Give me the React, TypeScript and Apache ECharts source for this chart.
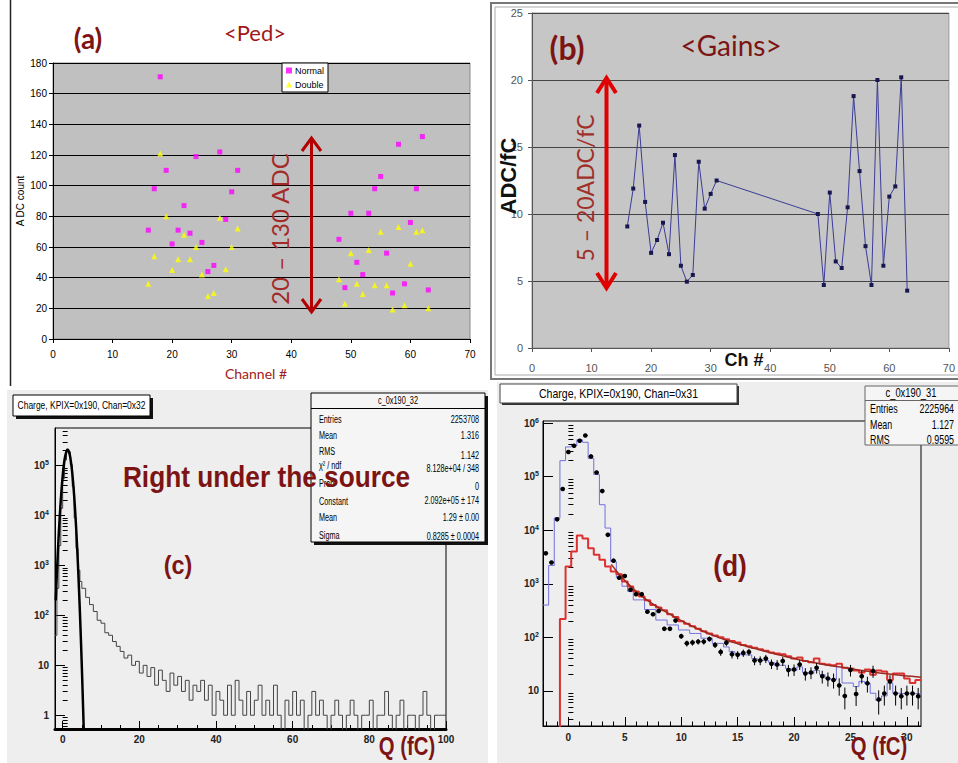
import React, { useEffect, useRef } from "react";
import * as echarts from "echarts";

// ---------- (a) pedestals & (b) gains ----------
const channels = [16, 17, 18, 19, 20, 21, 22, 23, 24, 25, 26, 27, 28, 29, 30, 31, 48, 49, 50, 51, 52, 53, 54, 55, 56, 57, 58, 59, 60, 61, 62, 63];
const pedNormal = [71, 98, 171, 110, 62, 71, 87, 69, 119, 63, 44, 48, 122, 78, 96, 110, 65, 33.5, 82, 50, 42, 82, 98, 106, 56, 30, 127, 36, 76, 98, 132, 32];
const pedDouble = [36, 54, 121, 80, 45, 52, 68, 52, 60, 42, 28, 30, 79, 45.5, 60, 72, 39, 23, 56, 36, 29.4, 58, 35, 70, 35, 19.3, 73, 22, 49, 70, 71, 20];
const gains = [9.07, 11.9, 16.6, 10.9, 7.1, 8.06, 9.35, 7.0, 14.4, 6.14, 4.95, 5.45, 13.9, 10.4, 11.5, 12.5, 10.0, 4.7, 11.6, 6.46, 5.97, 10.5, 18.8, 13.2, 7.6, 4.7, 20.0, 6.14, 11.3, 12.06, 20.2, 4.28];

// ---------- (c) charge, chan 0x32 ----------
const cPeakStart = -2;
const cPeakBin = 0.5;
const cPeakCounts = [40, 350, 2500, 14000, 55000, 130000, 215000, 190000, 105000, 38000, 9000, 2200, 800, 480];
const cTailStart = 5;
const cTailBin = 1;
const cTailCounts = [
  350, 230, 165, 120, 80, 70, 45, 40, 30, 24,
  19, 14, 16, 10, 12, 7, 10, 6, 9, 4,
  8, 5, 3, 7, 4, 6, 3, 5, 2, 4,
  3, 5, 2, 4, 1, 3, 2, 1, 4, 1,
  5, 2, 1, 3, 1, 2, 4, 1, 2, 1,
  4, 1, 0, 2, 1, 3, 1, 2, 0, 1,
  3, 1, 2, 1, 0, 1, 2, 1, 0, 1,
  2, 1, 0, 1, 1, 2, 0, 1, 1, 3,
  1, 0, 1, 2, 0, 1, 1, 0, 1, 3,
  1, 0, 1, 1, 1,
];
const cFitQ = [-1.8, -1.5, -1.0, -0.5, 0, 0.5, 1.0, 1.3, 1.6, 2.0, 2.5, 3.0, 3.5, 4.0, 4.5, 5.0, 5.5, 5.8];
const cFitN = [200, 720, 4600, 20000, 62000, 133000, 197000, 209000, 195000, 145000, 72000, 25000, 6000, 990, 115, 9.4, 0.52, 0.1];

// ---------- (d) charge, chan 0x31 (0.5 fC bins from -2.25) ----------
const dStart = -2.25;
const dBin = 0.5;
const dData = [
  3700, 2500, 16000, 59000, 290000, 380000, 470000, 590000, 240000, 120000,
  54000, 8200, 2700, 1300, 1400, 770, 640, 640, 300, 270,
  310, 144, 144, 205, 105, 77, 80, 83, 83, 93,
  72, 53, 79, 48, 47, 51, 53, 37, 37, 40,
  32, 31, 36, 24.5, 25, 31, 21, 22, 27, 18.7,
  17, 16, 12.6, 8, 24.5, 8.7, 18.7, 13.8, 23.5, 6.9,
  8.9, 15, 8.9, 7.9, 8.9, 8.9, 7.9,
];
const dErr = [
  0, 0, 0, 0, 0, 0, 0, 0, 0, 0,
  0, 0, 0, 40, 40, 30, 28, 28, 18, 18,
  18, 13, 13, 15, 11, 10, 10, 10, 10, 10,
  9, 8, 10, 8, 8, 8, 8, 7, 7, 7,
  6.5, 6.5, 7, 6, 6, 6.5, 5.5, 5.5, 6, 5,
  5, 5, 4.5, 3.5, 6, 3.5, 5, 4.5, 6, 3.3,
  3.6, 4.6, 3.6, 3.4, 3.6, 3.6, 3.4,
];
const dBlue = [
  400, 2200, 17000, 200000, 360000, 380000, 490000, 440000, 220000, 110000,
  30000, 11000, 2600, 1300, 900, 720, 500, 500, 330, 330,
  210, 210, 170, 170, 137, 137, 118, 118, 96, 96,
  77, 77, 66, 54, 50, 47, 47, 40, 37, 37,
  34, 30, 30, 26, 24, 28, 22, 21, 24, 20,
  17, 16, 28, 14, 14, 12, 15, 13.7, 9, 6.6,
  8, 14, 9, 8.9, 9, 8.9, 8.9,
];
const dRed = [
  0, 0, 0, 220, 2100, 4000, 8000, 7000, 4600, 3500,
  2800, 2100, 1700, 1500, 1100, 890, 720, 580, 490, 400,
  360, 320, 270, 240, 200, 180, 160, 145, 130, 118,
  108, 100, 92, 85, 80, 72, 68, 64, 60, 56,
  52, 50, 48, 44, 40, 42, 36, 34, 40, 32,
  31, 30, 32, 27, 26, 24, 22, 25, 20, 24,
  23, 16, 21, 21, 17, 14, 16,
];
const dFitQ = [3.8, 4.5, 5, 6, 7, 8, 9, 10, 11, 12, 13, 14, 15, 16, 17, 18, 19, 20, 21, 22, 23, 24, 25, 26, 27, 28, 29, 30, 31.25];
const dFitN = [2300, 1500, 1150, 720, 490, 360, 270, 205, 160, 128, 105, 88, 76, 66, 58, 51, 45, 40, 36, 33, 30, 28, 26, 24, 22.5, 21, 20, 19, 18];

const cStatLabels = ["Entries", "Mean", "RMS", "\u03c7\u00b2 / ndf", "Prob", "Constant", "Mean", "Sigma"];
const cStatValues = ["2253708", "1.316", "1.142", "8.128e+04 / 348", "0", "2.092e+05 \u00b1 174", "1.29 \u00b1 0.00", "0.8285 \u00b1 0.0004"];
const dStatLabels = ["Entries", "Mean", "RMS"];
const dStatValues = ["2225964", "1.127", "0.9595"];

const FONT = "'Liberation Sans', Arial, sans-serif";
const TFONT = "Lato, 'Open Sans', sans-serif";
const DRED = "#7d1414";

const C_YMIN = 0.53, C_YMAX = 5.7e5;
const D_YMIN = 2.2, D_YMAX = 1.1e6;

function logMajor(min: number, max: number) {
  const out: number[] = [];
  for (let e = -2; e <= 8; e++) { const v = Math.pow(10, e); if (v >= min && v <= max) out.push(v); }
  return out;
}
function logMinor(min: number, max: number) {
  const out: number[] = [];
  for (let e = -2; e <= 8; e++) for (let m = 2; m <= 9; m++) { const v = m * Math.pow(10, e); if (v > min && v < max) out.push(v); }
  return out;
}
const powLabel = (v: number) => {
  if (Math.abs(v - 1) < 1e-9) return "1";
  if (Math.abs(v - 10) < 1e-6) return "10";
  const e = Math.round(Math.log10(v));
  return `{b|10}{s|${e}}`;
};
const powRich = {
  b: { fontSize: 10, fontWeight: "bold", color: "#222", fontFamily: FONT, lineHeight: 13 },
  s: { fontSize: 7, fontWeight: "bold", color: "#222", fontFamily: FONT, lineHeight: 7, verticalAlign: "top" },
};

function T(x: number, y: number, text: string, o: any = {}) {
  return {
    type: "text", x, y, rotation: o.rot || 0, scaleX: o.sx || 1, z: o.z ?? 100,
    style: {
      text, fill: o.color || "#000", fontSize: o.size || 12, fontFamily: o.family || FONT,
      fontWeight: o.weight || "normal", align: o.align || "center", verticalAlign: o.va || "middle",
    },
  };
}

export default function App() {
  const ref = useRef<HTMLDivElement>(null);
  useEffect(() => {
    if (!ref.current) return;
    const chart = echarts.init(ref.current, null, { renderer: "svg" });

    const FLOOR = 1e-3;
    const cHist: number[][] = [];
    cPeakCounts.forEach((v, i) => cHist.push([cPeakStart + i * cPeakBin, v > 0 ? v : FLOOR]));
    cTailCounts.forEach((v, i) => cHist.push([cTailStart + i * cTailBin, v > 0 ? v : FLOOR]));
    cHist.push([cTailStart + cTailCounts.length * cTailBin, cTailCounts[cTailCounts.length - 1] || FLOOR]);

    const stepData = (arr: number[]) => {
      const out = arr.map((v, i) => [dStart + i * dBin, v > 0 ? v : FLOOR]);
      out.push([dStart + arr.length * dBin, arr[arr.length - 1] > 0 ? arr[arr.length - 1] : FLOOR]);
      return out;
    };

    const cMinorX: number[] = [];
    for (let q = 5; q < 100; q += 5) if (q % 20 !== 0) cMinorX.push(q);
    const dMinorX: number[] = [];
    for (let q = -2; q <= 31; q++) if (q % 5 !== 0) dMinorX.push(q);

    const cStats: any[] = [];
    const cLabY = [419, 435, 451, 465, 483, 501, 517, 535];
    const cValY = [419, 435, 455, 468, 486, 500, 517, 536];
    cStatLabels.forEach((l, i) => cStats.push(T(319, cLabY[i], l, { align: "left", size: 11.5, sx: 0.63, z: 60 })));
    cStatValues.forEach((v, i) => cStats.push(T(479, cValY[i], v, { align: "right", size: 11.5, sx: 0.63, z: 60 })));
    const dStats: any[] = [];
    const dRowY = [408, 424, 439];
    dStatLabels.forEach((l, i) => dStats.push(T(870, dRowY[i], l, { align: "left", size: 12, sx: 0.74, z: 60 })));
    dStatValues.forEach((v, i) => dStats.push(T(954, dRowY[i], v, { align: "right", size: 12, sx: 0.74, z: 60 })));

    const arrowA = "#b40000";
    const arrowB = "#e00000";

    const graphic: any[] = [
      // panel backgrounds
      { type: "rect", z: -10, shape: { x: 7, y: 390, width: 481, height: 373 }, style: { fill: "#eeeeee" } },
      { type: "rect", z: -10, shape: { x: 497, y: 382, width: 461, height: 381 }, style: { fill: "#eeeeee" } },
      // frames
      { type: "line", z: 5, shape: { x1: 10.5, y1: 0, x2: 10.5, y2: 386 }, style: { stroke: "#222", lineWidth: 1.5 } },
      { type: "rect", z: 5, shape: { x: 491, y: 3, width: 470, height: 376 }, style: { fill: "none", stroke: "#777", lineWidth: 2 } },
      { type: "rect", z: 5, shape: { x: 495, y: 7, width: 470, height: 368 }, style: { fill: "none", stroke: "#aaa", lineWidth: 1 } },

      // (a) texts
      T(88, 38, "(a)", { size: 28, weight: "bold", family: TFONT, color: DRED }),
      T(255, 32, "<Ped>", { size: 22, family: TFONT, color: "#a01818" }),
      T(256, 373, "Channel #", { size: 14, family: TFONT, color: "#a02020" }),
      T(20, 201, "A DC count", { size: 10, rot: Math.PI / 2 }),
      T(279, 229, "20 \u2013 130 ADC", { size: 24, family: TFONT, color: "#a52a2a", rot: Math.PI / 2 }),
      { type: "line", z: 100, shape: { x1: 311.5, y1: 139, x2: 311.5, y2: 311 }, style: { stroke: arrowA, lineWidth: 3 } },
      { type: "polyline", z: 100, shape: { points: [[302, 151], [311.5, 138], [321, 151]] }, style: { stroke: arrowA, lineWidth: 3, fill: "none" } },
      { type: "polyline", z: 100, shape: { points: [[302, 299], [311.5, 312], [321, 299]] }, style: { stroke: arrowA, lineWidth: 3, fill: "none" } },

      // (b) texts
      T(567, 47, "(b)", { size: 32, weight: "bold", family: TFONT, color: DRED }),
      T(731, 45, "<Gains>", { size: 28, family: TFONT, color: DRED }),
      T(508, 176, "ADC/fC", { size: 22, weight: "bold", rot: Math.PI / 2, color: "#111" }),
      T(744, 360, "Ch #", { size: 18, weight: "bold", color: "#111" }),
      T(585, 188, "5 \u2013 20ADC/fC", { size: 23, family: TFONT, color: "#a0302a", rot: Math.PI / 2 }),
      { type: "line", z: 100, shape: { x1: 606.5, y1: 82, x2: 606.5, y2: 284 }, style: { stroke: arrowB, lineWidth: 4 } },
      { type: "polyline", z: 100, shape: { points: [[597, 93], [606.5, 78], [616, 93]] }, style: { stroke: arrowB, lineWidth: 4, fill: "none" } },
      { type: "polyline", z: 100, shape: { points: [[597, 273], [606.5, 288], [616, 273]] }, style: { stroke: arrowB, lineWidth: 4, fill: "none" } },

      // (c) title box
      { type: "rect", z: 50, shape: { x: 16, y: 398, width: 137, height: 21 }, style: { fill: "#111" } },
      { type: "rect", z: 51, shape: { x: 13, y: 395, width: 137, height: 21 }, style: { fill: "#ffffff", stroke: "#000", lineWidth: 1 } },
      T(81.5, 405.5, "Charge, KPIX=0x190, Chan=0x32", { size: 11, sx: 0.77, z: 52 }),
      // (c) stats box
      { type: "rect", z: 50, shape: { x: 314, y: 396, width: 174, height: 149 }, style: { fill: "#111" } },
      { type: "rect", z: 51, shape: { x: 311, y: 393, width: 174, height: 149 }, style: { fill: "#f5f5f5", stroke: "#000", lineWidth: 1 } },
      { type: "line", z: 52, shape: { x1: 311, y1: 408.5, x2: 485, y2: 408.5 }, style: { stroke: "#000", lineWidth: 1 } },
      T(398, 400.5, "c_0x190_32", { size: 10.5, sx: 0.7, z: 60 }),
      ...cStats,
      T(266.5, 476, "Right under the source", { size: 30, weight: "bold", sx: 0.875, color: DRED, z: 120 }),
      T(178, 565, "(c)", { size: 26, weight: "bold", sx: 0.9, color: DRED }),
      T(407, 746, "Q (fC)", { size: 26, weight: "bold", sx: 0.78, color: DRED }),

      // (d) title box
      { type: "rect", z: 50, shape: { x: 502, y: 386, width: 237, height: 19 }, style: { fill: "#333" } },
      { type: "rect", z: 51, shape: { x: 500, y: 384, width: 237, height: 19 }, style: { fill: "#ffffff", stroke: "#444", lineWidth: 1 } },
      T(618.5, 393.5, "Charge, KPIX=0x190, Chan=0x31", { size: 13, sx: 0.81, z: 52 }),
      // (d) stats box
      { type: "rect", z: 51, shape: { x: 865, y: 386, width: 95, height: 59 }, style: { fill: "#f5f5f5", stroke: "#666", lineWidth: 1 } },
      { type: "line", z: 52, shape: { x1: 865, y1: 400.5, x2: 958, y2: 400.5 }, style: { stroke: "#666", lineWidth: 1 } },
      T(911, 393, "c_0x190_31", { size: 12, sx: 0.78, z: 60 }),
      ...dStats,
      T(730, 565, "(d)", { size: 30, weight: "bold", sx: 0.88, color: DRED }),
      T(879, 746, "Q (fC)", { size: 26, weight: "bold", sx: 0.78, color: DRED }),
    ];

    const hiddenLine = { show: false };
    const option: any = {
      animation: false,
      backgroundColor: "#ffffff",
      textStyle: { fontFamily: FONT },
      legend: {
        data: ["Normal", "Double"], orient: "vertical", left: 282, top: 63, padding: [3, 4, 3, 4],
        itemGap: 5, itemWidth: 6, itemHeight: 6, backgroundColor: "#ffffff", borderColor: "#000", borderWidth: 1,
        borderRadius: 0, selectedMode: false, textStyle: { fontSize: 9, color: "#000", fontFamily: FONT, padding: [0, 0, 0, -2] },
      },
      grid: [
        { left: 53, top: 63, width: 417, height: 276, show: true, backgroundColor: "#c0c0c0", borderColor: "#888", borderWidth: 1 },
        { left: 532, top: 13, width: 424, height: 335, show: true, backgroundColor: "#c6c6c6", borderColor: "#999", borderWidth: 1 },
        { left: 55, top: 428, width: 391, height: 301, show: true, backgroundColor: "#eeeeee", borderColor: "#000", borderWidth: 1 },
        { left: 543, top: 421, width: 378, height: 305, show: true, backgroundColor: "#eeeeee", borderColor: "#000", borderWidth: 1 },
      ],
      xAxis: [
        {
          gridIndex: 0, type: "value", min: 0, max: 70, interval: 10, position: "bottom",
          axisLine: { show: true, onZero: false, lineStyle: { color: "#000", width: 1 } },
          axisTick: { show: true, inside: false, length: 4, lineStyle: { color: "#000" } },
          axisLabel: { color: "#000", fontSize: 10, margin: 10 }, splitLine: { show: false },
        },
        {
          gridIndex: 1, type: "value", min: 0, max: 70, interval: 10, position: "bottom",
          axisLine: { show: true, onZero: false, lineStyle: { color: "#555", width: 1 } },
          axisTick: { show: true, inside: false, length: 4, lineStyle: { color: "#555" } },
          axisLabel: { color: "#555", fontSize: 11, margin: 14 }, splitLine: { show: false },
        },
        {
          gridIndex: 2, type: "value", min: -2, max: 100, position: "bottom",
          axisLine: { show: true, onZero: false, lineStyle: { color: "#000", width: 3 } },
          axisTick: { show: true, inside: true, length: 8, customValues: [0, 20, 40, 60, 80, 100], lineStyle: { color: "#000" } },
          axisLabel: { customValues: [0, 20, 40, 60, 80, 100], color: "#222", fontSize: 10, fontWeight: "bold", margin: 5 },
          splitLine: { show: false },
        },
        {
          gridIndex: 2, type: "value", min: -2, max: 100, position: "bottom",
          axisLine: hiddenLine, axisLabel: { show: false }, splitLine: { show: false },
          axisTick: { show: true, inside: true, length: 4, customValues: cMinorX, lineStyle: { color: "#000" } },
        },
        {
          gridIndex: 3, type: "value", min: dStart, max: 31.25, position: "bottom",
          axisLine: { show: true, onZero: false, lineStyle: { color: "#000", width: 1 } },
          axisTick: { show: true, inside: true, length: 9, customValues: [0, 5, 10, 15, 20, 25, 30], lineStyle: { color: "#000" } },
          axisLabel: { customValues: [0, 5, 10, 15, 20, 25, 30], color: "#222", fontSize: 10, fontWeight: "bold", margin: 6 },
          splitLine: { show: false },
        },
        {
          gridIndex: 3, type: "value", min: dStart, max: 31.25, position: "bottom",
          axisLine: hiddenLine, axisLabel: { show: false }, splitLine: { show: false },
          axisTick: { show: true, inside: true, length: 4.5, customValues: dMinorX, lineStyle: { color: "#000" } },
        },
      ],
      yAxis: [
        {
          gridIndex: 0, type: "value", min: 0, max: 180, interval: 20, position: "left",
          axisLine: { show: true, onZero: false, lineStyle: { color: "#000" } },
          axisTick: { show: true, length: 4, lineStyle: { color: "#000" } },
          axisLabel: { color: "#000", fontSize: 10, margin: 6 },
          splitLine: { show: true, lineStyle: { color: "#000", width: 1 } },
        },
        {
          gridIndex: 1, type: "value", min: 0, max: 25, interval: 5, position: "left",
          axisLine: { show: true, onZero: false, lineStyle: { color: "#555" } },
          axisTick: { show: true, length: 4, lineStyle: { color: "#555" } },
          axisLabel: { color: "#555", fontSize: 11, margin: 9 },
          splitLine: { show: true, lineStyle: { color: "#444", width: 1.2 } },
        },
        {
          gridIndex: 2, type: "log", logBase: 10, min: C_YMIN, max: C_YMAX, position: "left",
          axisLine: { show: true, onZero: false, lineStyle: { color: "#000" } },
          axisTick: { show: true, inside: true, length: 10, customValues: logMajor(C_YMIN, C_YMAX), lineStyle: { color: "#000" } },
          axisLabel: { customValues: logMajor(C_YMIN, C_YMAX), formatter: powLabel, rich: powRich, color: "#222", fontSize: 10, fontWeight: "bold", margin: 6 },
          splitLine: { show: false },
        },
        {
          gridIndex: 2, type: "log", logBase: 10, min: C_YMIN, max: C_YMAX, position: "left",
          axisLine: hiddenLine, axisLabel: { show: false }, splitLine: { show: false },
          axisTick: { show: true, inside: true, length: 5, customValues: logMinor(C_YMIN, C_YMAX), lineStyle: { color: "#000" } },
        },
        {
          gridIndex: 3, type: "log", logBase: 10, min: D_YMIN, max: D_YMAX, position: "left",
          axisLine: { show: true, onZero: false, lineStyle: { color: "#000" } },
          axisTick: { show: true, inside: true, length: 10, customValues: logMajor(D_YMIN, D_YMAX), lineStyle: { color: "#000" } },
          axisLabel: { customValues: logMajor(D_YMIN, D_YMAX), formatter: powLabel, rich: powRich, color: "#222", fontSize: 10, fontWeight: "bold", margin: 4 },
          splitLine: { show: false },
        },
        {
          gridIndex: 3, type: "log", logBase: 10, min: D_YMIN, max: D_YMAX, position: "left",
          axisLine: hiddenLine, axisLabel: { show: false }, splitLine: { show: false },
          axisTick: { show: true, inside: true, length: 5, customValues: logMinor(D_YMIN, D_YMAX), lineStyle: { color: "#000" } },
        },
      ],
      series: [
        {
          name: "Normal", type: "scatter", xAxisIndex: 0, yAxisIndex: 0, symbol: "rect", symbolSize: 5,
          itemStyle: { color: "#ff00ff" }, data: channels.map((c, i) => [c, pedNormal[i]]), z: 3,
        },
        {
          name: "Double", type: "scatter", xAxisIndex: 0, yAxisIndex: 0, symbol: "triangle", symbolSize: 6,
          itemStyle: { color: "#ffff00" }, data: channels.map((c, i) => [c, pedDouble[i]]), z: 3,
        },
        {
          name: "Gain", type: "line", xAxisIndex: 1, yAxisIndex: 1, symbol: "rect", symbolSize: 4,
          lineStyle: { color: "#3b3b98", width: 1 }, itemStyle: { color: "#161650" },
          data: channels.map((c, i) => [c, gains[i]]), z: 3,
        },
        {
          name: "cData", type: "line", xAxisIndex: 2, yAxisIndex: 2, step: "end", symbol: "none", clip: true,
          lineStyle: { color: "#444", width: 1 }, data: cHist, z: 3,
        },
        {
          name: "cFit", type: "line", xAxisIndex: 2, yAxisIndex: 2, smooth: 0.3, symbol: "none", clip: true,
          lineStyle: { color: "#000", width: 2.5 }, data: cFitQ.map((q, i) => [q, cFitN[i]]), z: 4,
        },
        {
          name: "dBlue", type: "line", xAxisIndex: 4, yAxisIndex: 4, step: "end", symbol: "none", clip: true,
          lineStyle: { color: "#7272dc", width: 1 }, data: stepData(dBlue), z: 3,
        },
        {
          name: "dRed", type: "line", xAxisIndex: 4, yAxisIndex: 4, step: "end", symbol: "none", clip: true,
          lineStyle: { color: "#dd3030", width: 2 }, data: stepData(dRed), z: 4,
        },
        {
          name: "dFit", type: "line", xAxisIndex: 4, yAxisIndex: 4, smooth: 0.4, symbol: "none", clip: true,
          lineStyle: { color: "#9a2a20", width: 1.5 }, data: dFitQ.map((q, i) => [q, dFitN[i]]), z: 5,
        },
        {
          name: "dPoints", type: "custom", xAxisIndex: 4, yAxisIndex: 4, clip: true, z: 6,
          data: dData.map((v, i) => [dStart + (i + 0.5) * dBin, v, dErr[i]]),
          renderItem: (params: any, api: any) => {
            const x = api.value(0), y = api.value(1), e = api.value(2);
            const p = api.coord([x, y]);
            const l = api.coord([x - 0.2, y]);
            const r = api.coord([x + 0.2, y]);
            const children: any[] = [
              { type: "line", shape: { x1: l[0], y1: p[1], x2: r[0], y2: p[1] }, style: { stroke: "#000", lineWidth: 1 } },
              { type: "circle", shape: { cx: p[0], cy: p[1], r: 2.3 }, style: { fill: "#000" } },
            ];
            if (e > 0) {
              const t = api.coord([x, y + e]);
              const b = api.coord([x, Math.max(y - e, 0.01)]);
              children.push({ type: "line", shape: { x1: p[0], y1: t[1], x2: p[0], y2: b[1] }, style: { stroke: "#000", lineWidth: 1 } });
            }
            return { type: "group", children };
          },
        },
      ],
      graphic: { elements: graphic },
    };

    chart.setOption(option);
    return () => chart.dispose();
  }, []);

  return <div ref={ref} style={{ position: "absolute", left: 0, top: 0, width: 958, height: 763 }} />;
}
